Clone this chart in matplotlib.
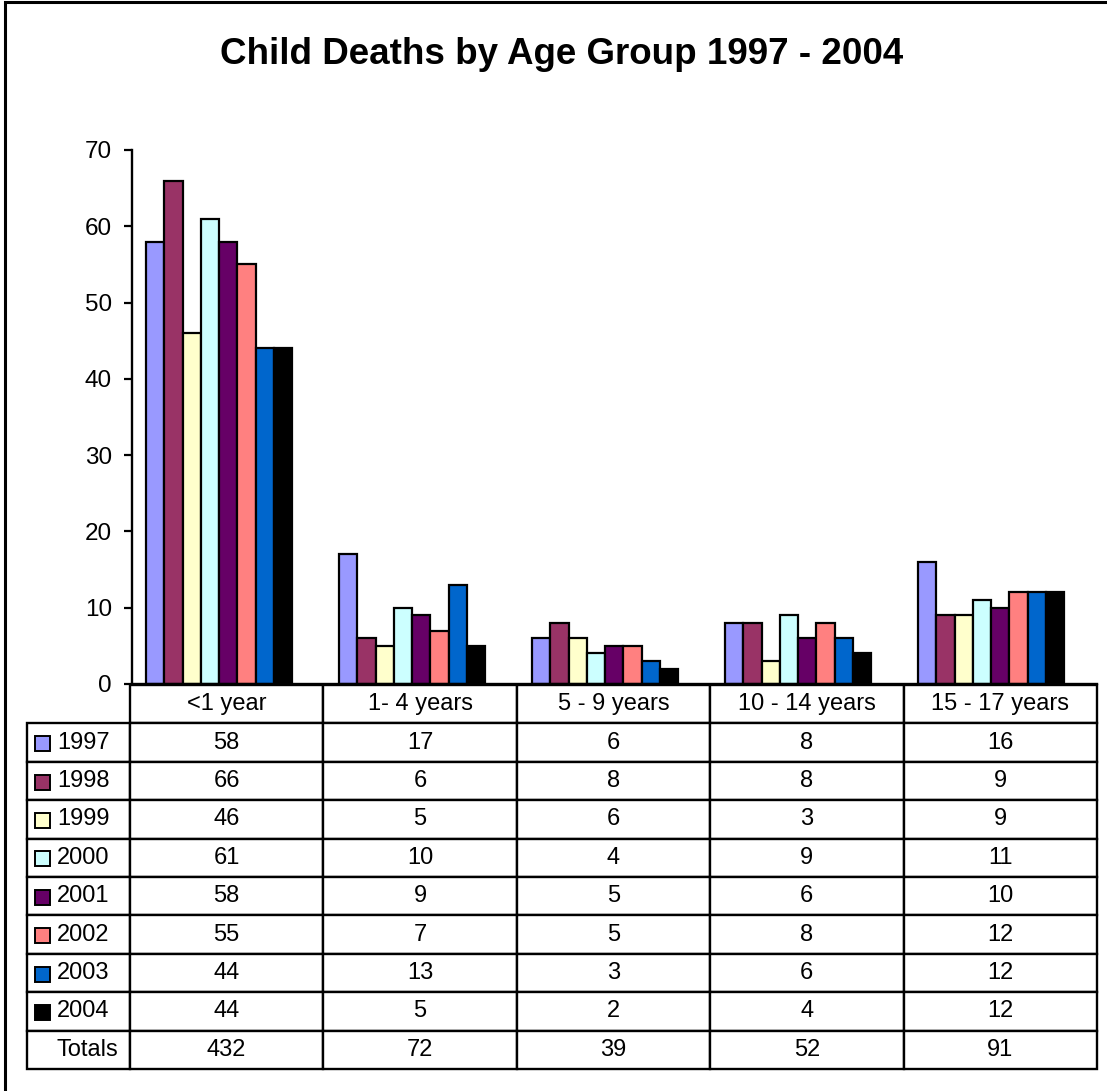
import matplotlib
matplotlib.use("Agg")
import matplotlib.pyplot as plt
from matplotlib.patches import Rectangle

plt.rcParams['font.family'] = ['Liberation Sans', 'DejaVu Sans']

# data
age_groups = ['<1 year', '1- 4 years', '5 - 9 years', '10 - 14 years', '15 - 17 years']
years = ['1997', '1998', '1999', '2000', '2001', '2002', '2003', '2004']
d1997 = [58, 17, 6, 8, 16]
d1998 = [66, 6, 8, 8, 9]
d1999 = [46, 5, 6, 3, 9]
d2000 = [61, 10, 4, 9, 11]
d2001 = [58, 9, 5, 6, 10]
d2002 = [55, 7, 5, 8, 12]
d2003 = [44, 13, 3, 6, 12]
d2004 = [44, 5, 2, 4, 12]
totals = [432, 72, 39, 52, 91]
series = [d1997, d1998, d1999, d2000, d2001, d2002, d2003, d2004]
colors = ['#9999FF', '#993366', '#FFFFCC', '#CCFFFF', '#660066', '#FF8080', '#0066CC', '#000000']

W, H = 1107, 1091
fig = plt.figure(figsize=(W / 100, H / 100), dpi=100)

# outer frame (runs off the right/bottom edge like the original)
fig.patches.append(Rectangle((5 / W, -0.1), 1.2, 1 - 2 / H + 0.1, fill=False,
                             lw=2.2, ec='black', transform=fig.transFigure))

fig.text(562 / W, 1 - 55 / H, 'Child Deaths by Age Group 1997 - 2004',
         ha='center', va='center', fontsize=26.5, fontweight='bold')

# plot area in pixels
ax_l, ax_r, ax_t, ax_b = 132, 1097, 150, 684
ax = fig.add_axes([ax_l / W, 1 - ax_b / H, (ax_r - ax_l) / W, (ax_b - ax_t) / H])

bar_w = 0.0945
offset = 0.073
for j, (vals, c) in enumerate(zip(series, colors)):
    xs = [i + offset + j * bar_w for i in range(len(age_groups))]
    ax.bar(xs, vals, width=bar_w, align='edge', color=c, edgecolor='black', linewidth=1.6)

ax.set_xlim(0, 5)
ax.set_ylim(0, 70)
ax.set_yticks(range(0, 71, 10))
ax.set_xticks([])
ax.tick_params(axis='y', direction='out', length=5.5, width=1.6, pad=9, labelsize=17.5)
for s in ['top', 'right']:
    ax.spines[s].set_visible(False)
ax.spines['left'].set_linewidth(1.7)
ax.spines['bottom'].set_linewidth(1.7)

# data table underneath
cell_text = [[''] + age_groups]
for y, vals in zip(years, series):
    cell_text.append([y] + [str(v) for v in vals])
cell_text.append(['Totals'] + [str(v) for v in totals])

tab_l, tab_t, tab_b = 27, 685, 1069
pw, ph = ax_r - ax_l, ax_b - ax_t
bbox = [(tab_l - ax_l) / pw, (ax_b - tab_b) / ph, (ax_r - tab_l) / pw, (tab_b - tab_t) / ph]
col_w = [103] + [193.6] * 5
table = ax.table(cellText=cell_text, colWidths=col_w, cellLoc='center', bbox=bbox)
table.auto_set_font_size(False)
table.set_fontsize(17)
for (r, c), cell in table.get_celld().items():
    cell.set_linewidth(1.7)
    if c == 0:
        cell.get_text().set_ha('left')
        cell.PAD = 0.29
    if r == 0 and c == 0:
        cell.visible_edges = 'open'

# legend swatches in the row label column
row_h = (tab_b - tab_t) / len(cell_text)
for k, c in enumerate(colors):
    cy = tab_t + row_h * (k + 1) + row_h / 2 + 1
    fig.patches.append(Rectangle((35 / W, 1 - (cy + 7.5) / H), 15 / W, 15 / H,
                                 fc=c, ec='black', lw=1.4, transform=fig.transFigure))

fig.savefig('out.png', dpi=100)
